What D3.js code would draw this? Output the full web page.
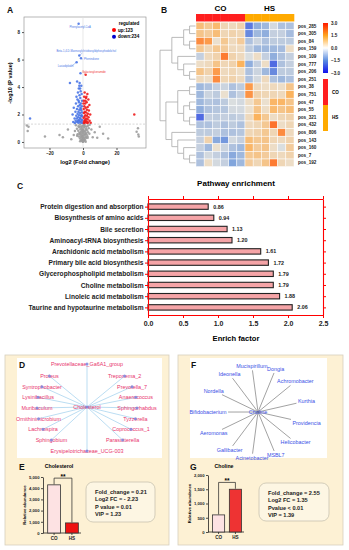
<!DOCTYPE html>
<html>
<head>
<meta charset="utf-8">
<script src="https://cdn.jsdelivr.net/npm/d3@7"></script>
<style>
  body { margin: 0; background: #fff; }
  svg { font-family: Arial, "Liberation Sans", sans-serif; }
</style>
</head>
<body>
<svg id="fig" width="349" height="550"></svg>
<script>
// ---------- data ----------

// A: volcano points [log2 FC, -log10 p]
let downPoints = [[-2.6,8.6],[-2.2,6.3],[-1.2,6.1],[-3.8,5.8],[-7.8,4.3],[-31.6,1.7],[-1.5,5.0],[-3.5,4.4],[-2.0,4.3],[-1.0,4.1],
  [-2.5,3.9],[-1.4,3.7],[-3.0,3.6],[-0.8,3.5],[-2.1,3.4],[-1.6,3.2],[-3.3,3.1],[-0.6,3.0],[-2.4,2.9],[-1.2,2.8],[-4.2,2.8],
  [-1.9,2.7],[-2.9,2.6],[-0.7,2.6],[-5.5,2.5],[-1.5,2.5],[-3.6,2.4],[-2.2,2.35],[-1.0,2.3],[-4.5,2.2],[-2.7,2.2],[-0.5,2.15],
  [-1.7,2.1],[-3.2,2.05],[-6.2,2.0],[-2.3,1.95],[-1.1,1.9],[-4.0,1.9],[-0.6,1.85],[-2.9,1.8],[-1.8,1.75],[-3.7,1.7],[-5.0,1.7],
  [-1.3,1.65],[-2.5,1.6],[-0.4,1.6],[-4.4,1.55],[-3.1,1.55],[-2.0,1.5],[-0.9,1.5],[-5.8,1.45],[-3.5,1.45],[-1.5,1.42],[-2.7,1.4],
  [-0.5,1.38],[-4.8,1.38],[-2.2,4.1],[-1.7,3.9],[-3.9,3.3],[-2.6,3.0],[-1.3,2.4],[-0.8,1.95]]
let upPoints = [[1.6,4.9],[30.6,2.0],[1.0,3.6],[2.6,3.5],[0.7,3.3],[1.8,3.2],[3.2,3.1],[0.5,3.0],[2.2,2.9],[1.3,2.8],[3.8,2.7],
  [0.8,2.6],[2.8,2.55],[1.6,2.5],[0.4,2.4],[2.3,2.35],[3.5,2.3],[1.1,2.2],[1.9,2.15],[0.6,2.1],[2.9,2.05],[4.3,2.0],[1.4,1.95],
  [2.4,1.9],[0.9,1.85],[3.3,1.8],[0.4,1.75],[1.8,1.7],[2.7,1.65],[1.2,1.6],[3.9,1.55],[0.7,1.5],[2.1,1.5],[1.5,1.45],[3.0,1.42],
  [0.5,1.38],[2.5,1.38],[4.6,1.4],[1.0,1.4],[0.3,2.8],[2.0,3.3],[1.5,3.0]]
let nsPoints = [[-0.3,0.05],[0.4,0.08],[-1.1,0.1],[1.2,0.12],[0.1,0.15],[-0.6,0.2],[0.8,0.22],[-1.8,0.25],[1.9,0.28],[-0.2,0.3],
  [0.5,0.33],[-1.3,0.36],[1.5,0.38],[-2.5,0.4],[2.6,0.42],[0.0,0.45],[-0.8,0.48],[1.0,0.5],[-1.6,0.52],[2.2,0.55],[-3.2,0.57],
  [0.3,0.6],[-0.5,0.62],[1.7,0.65],[-2.1,0.67],[3.0,0.7],[-0.1,0.72],[0.7,0.75],[-1.0,0.78],[1.3,0.8],[-2.8,0.82],[2.4,0.85],
  [-0.4,0.87],[0.2,0.9],[-1.5,0.92],[1.8,0.95],[-3.6,0.97],[3.4,1.0],[-0.7,1.02],[0.6,1.05],[-2.2,1.07],[2.0,1.1],[-1.2,1.12],
  [1.1,1.15],[-0.3,1.18],[0.4,1.2],[-4.2,1.22],[4.0,1.25],[-1.9,1.27],[0.9,1.28],[-0.9,0.15],[0.6,0.18],[-2.0,0.6],[2.8,0.3],
  [-3.5,0.45],[3.8,0.6],[-4.8,0.8],[5.0,0.9],[-5.5,0.5],[5.8,0.35],[-0.1,0.02],[0.2,0.03],[-0.5,0.38],[1.4,0.58],[-1.4,0.68],
  [0.0,0.85],[-2.6,1.15],[2.9,1.18],[-1.7,0.05],[1.6,0.02],[-32.5,1.1],[-33,0.8],[-22.7,0.4],[32.8,1.0],[33,0.55],[33.3,0.4],
  [32,0.75],[10,1.1],[7,0.7],[-14,0.5],[-12,0.35],[-9,0.9],[8.5,0.3],[-7,0.2],[12,0.6],[-33.5,1.2],[15,0.25]]
let volcanoNotes = [
  { name: 'Phenylacetyl-CoA', x: -2.6, y: 8.6, dx: 1.5, dy: 4.5, anchor: 'middle', up: false },
  { name: 'Beta-1,4-D-Mannosylchitobiosyldiphosphodolichol', x: -2.2, y: 6.3, dx: 7, dy: -3.5, anchor: 'middle', up: false },
  { name: 'Phenindione', x: -1.2, y: 6.1, dx: 3, dy: 2, anchor: 'start', up: false },
  { name: 'Lasiodiplodin', x: -3.8, y: 5.8, dx: -11, dy: 5, anchor: 'middle', up: false },
  { name: 'Galactosylceramide', x: 1.6, y: 4.9, dx: -3.5, dy: -1.5, anchor: 'start', up: true }
]
let upCount = 123
let downCount = 234

// B: heatmap
let heatRows = ['pos_285','pos_305','pos_84','pos_159','pos_109','pos_777','pos_206','pos_251','pos_38','pos_751',
  'pos_47','pos_55','pos_321','pos_432','pos_806','pos_143','pos_160','pos_7','pos_192']
let heatGroups = ['CO','CO','CO','CO','CO','CO','HS','HS','HS','HS','HS','HS']
let heatValues = [
  [1.2,0.9,1.3,0.5,0.4,0.6,-2.0,-1.2,-1.0,-0.3,-0.8,-0.8],
  [1.0,0.8,1.2,0.5,0.6,0.5,-1.8,-1.0,-1.2,-0.5,-0.5,-0.9],
  [2.0,1.8,0.2,0.9,0.4,0.8,-0.8,-0.4,-0.8,-0.6,-0.6,-0.6],
  [0.9,0.5,0.9,0.8,0.4,0.4,-0.6,-1.0,-1.0,-1.0,-0.9,0.3],
  [-0.5,0.4,0.6,2.2,0.6,0.4,-0.2,0.3,-0.5,-1.2,-0.8,-0.5],
  [0.3,0.4,1.0,0.5,0.6,1.5,-1.2,-0.5,0.3,-2.2,-0.8,-0.5],
  [1.0,0.6,1.8,0.4,0.5,0.3,-0.8,-0.4,-1.0,-1.8,-0.6,-0.6],
  [0.4,0.3,2.0,0.5,0.6,0.4,-0.8,-0.3,0.4,-0.8,-1.0,-0.8],
  [-1.0,-0.8,-0.5,-0.4,-0.8,-0.6,1.8,0.4,0.3,0.4,0.3,1.0],
  [-1.0,-0.4,-0.6,0.2,-0.8,-0.5,1.9,0.6,0.5,0.5,0.4,1.5],
  [-1.0,-0.7,-0.8,-0.6,-0.2,-0.3,0.3,0.9,0.2,1.4,1.4,1.0],
  [-1.2,-0.8,-0.7,-0.7,-0.3,-0.3,0.2,1.0,0.3,1.3,1.0,1.2],
  [-2.2,-0.5,-0.6,-0.5,-0.6,-0.5,0.4,1.5,0.9,0.3,0.5,0.6],
  [-0.8,-0.8,-0.6,-0.8,-0.6,-0.8,0.4,0.5,0.9,2.3,0.3,0.5],
  [-0.6,-0.6,-0.5,-0.8,-0.8,-0.7,0.5,0.6,0.9,0.5,2.0,0.4],
  [-0.5,0.6,-1.3,-1.6,-0.3,-0.5,1.2,0.9,1.0,0.5,0.4,0.6],
  [-0.5,-1.0,0.2,-0.4,-0.8,-1.0,1.4,0.8,1.0,0.3,-0.2,0.8],
  [-0.8,-0.3,-0.5,-0.8,-1.3,-1.0,0.9,1.0,0.8,0.5,0.4,0.6],
  [-0.8,0.3,-0.3,-0.5,-1.4,-1.0,0.8,0.5,1.0,2.2,0.5,0.3]
]
let rowTree = [
  [[['pos_285','pos_305'],['pos_84','pos_159']], ['pos_109',['pos_777',['pos_206','pos_251']]]],
  [[['pos_38','pos_751'],[['pos_47','pos_55'],['pos_321','pos_432']]], ['pos_806',['pos_143',['pos_160',['pos_7','pos_192']]]]]
]
let heatTicks = [3.0, 1.5, 0.0, -1.5, -3.0]

// C: pathway enrichment
let pathways = ['Protein digestion and absorption','Biosynthesis of amino acids','Bile secretion','Aminoacyl-tRNA biosynthesis',
  'Arachidonic acid metabolism','Primary bile acid biosynthesis','Glycerophospholipid metabolism','Choline metabolism',
  'Linoleic acid metabolism','Taurine and hypotaurine metabolism']
let enrichFactors = [0.86, 0.94, 1.13, 1.20, 1.61, 1.72, 1.79, 1.79, 1.88, 2.06]
let enrichTicks = [0, 0.5, 1.0, 1.5, 2.0, 2.5]

// D / F: correlation networks (clockwise from top)
let cholesterolTaxa = ['Prevotellaceae_Ga6A1_group','Treponema_2','Prevotella_7','Anaerococcus','Sphingorhabdus','Tyzzerella',
  'Coprococcus_1','Parasutterella','Erysipelotrichaceae_UCG-003','Sphingobium','Lachnospira','Ornithinimicrobium',
  'Muribaculum','Lysinibacillus','Syntrophobacter','Proteus']
let cholineTaxa = ['Mucispirillum','Dongia','Achromobacter','Kurthia','Providencia','Helicobacter','MSBL7','Acinetobacter',
  'Gallibacter','Aeromonas','Bifidobacterium','Nordella','Ideonella']

// E / G: bar charts
let groups = ['CO', 'HS']
let cholesterolAbundance = [4300, 900]
let cholineAbundance = [600, 1500]
let cholesterolTicks = [0, 1000, 2000, 3000, 4000, 5000]
let cholineTicks = [0, 500, 1000, 1500, 2000]
let cholesterolStats = ['Fold_change = 0.21', 'Log2 FC = - 2.23', 'P value = 0.01', 'VIP = 1.23']
let cholineStats = ['Fold_change = 2.55', 'Log2 FC = 1.35', 'Pvalue < 0.01', 'VIP = 1.39']

// ---------- drawing ----------
let svg = d3.select('#fig')
svg.append('rect').attr('width', 349).attr('height', 550).attr('fill', '#fff')

function panelLabel(t, x, y) {
  svg.append('text').text(t).attr('x', x).attr('y', y)
    .attr('font-size', 8.5).attr('font-weight', 'bold').attr('fill', '#111')
}

function styleAxis(g, size, color) {
  g.selectAll('text').attr('font-size', size).attr('font-weight', 'bold').attr('fill', '#222').attr('font-family', null)
  g.selectAll('line').attr('stroke', color)
  g.select('.domain').attr('stroke', color)
}

// ===== A: volcano =====
panelLabel('A', 7, 13)
let xVol = d3.scaleLinear().domain([-35.2, 37.6]).range([24, 146])
let yVol = d3.scaleLinear().domain([-0.44, 9.1]).range([148, 17])

svg.append('rect').attr('x', 24).attr('y', 17).attr('width', 122).attr('height', 131)
  .attr('fill', 'none').attr('stroke', '#999').attr('stroke-width', 0.7)
svg.append('line').attr('x1', xVol(0)).attr('x2', xVol(0)).attr('y1', 17).attr('y2', 148)
  .attr('stroke', '#ddd').attr('stroke-width', 0.7)
svg.append('line').attr('x1', 24).attr('x2', 146).attr('y1', yVol(1.3)).attr('y2', yVol(1.3))
  .attr('stroke', '#bbb').attr('stroke-width', 0.6).attr('stroke-dasharray', '2,1.5')

let yAxisA = svg.append('g').attr('transform', 'translate(24,0)')
  .call(d3.axisLeft(yVol).tickValues([0, 2, 4, 6, 8]).tickSize(2).tickSizeOuter(0).tickPadding(2))
styleAxis(yAxisA, 4.5, '#555')
yAxisA.select('.domain').remove()
let xAxisA = svg.append('g').attr('transform', 'translate(0,148)')
  .call(d3.axisBottom(xVol).tickValues([-20, 0, 20]).tickSize(2).tickSizeOuter(0).tickPadding(1.5))
styleAxis(xAxisA, 4.5, '#555')
xAxisA.select('.domain').remove()

let volLayers = [[nsPoints, '#9c9c9c'], [downPoints, '#4a76e6'], [upPoints, '#ee1c1c']]
volLayers.forEach(([pts, col]) => {
  svg.append('g').selectAll('circle').data(pts).enter().append('circle')
    .attr('cx', d => xVol(d[0])).attr('cy', d => yVol(d[1])).attr('r', 1.25)
    .attr('fill', col).attr('fill-opacity', 0.9)
})

volcanoNotes.forEach(n => {
  let px = xVol(n.x), py = yVol(n.y)
  let col = n.up ? '#f03030' : '#4a76e6'
  if (Math.abs(n.dx) > 2.5) {
    svg.append('line').attr('x1', px).attr('y1', py).attr('x2', px + n.dx * 0.45).attr('y2', py + n.dy * 0.7)
      .attr('stroke', col).attr('stroke-width', 0.4)
  }
  svg.append('text').text(n.name).attr('x', px + n.dx).attr('y', py + n.dy)
    .attr('text-anchor', n.anchor).attr('font-size', 2.7).attr('fill', col)
})

svg.append('text').text('regulated').attr('x', 129).attr('y', 24.5).attr('text-anchor', 'middle')
  .attr('font-size', 4.6).attr('font-weight', 'bold')
let legA = [['up:' + upCount, '#ff0000'], ['down:' + downCount, '#0000cc']]
legA.forEach((d, i) => {
  svg.append('circle').attr('cx', 114).attr('cy', 30 + i * 6.7).attr('r', 2).attr('fill', d[1])
  svg.append('text').text(d[0]).attr('x', 118).attr('y', 31.7 + i * 6.7)
    .attr('font-size', 4.6).attr('font-weight', 'bold')
})
svg.append('text').text('log2 (Fold change)').attr('x', 85).attr('y', 164).attr('text-anchor', 'middle')
  .attr('font-size', 5.6).attr('font-weight', 'bold')
svg.append('text').text('-log10 (P value)').attr('transform', 'translate(12,83) rotate(-90)')
  .attr('text-anchor', 'middle').attr('font-size', 5.6).attr('font-weight', 'bold')

// ===== B: heatmap =====
panelLabel('B', 161, 13)
let xHeat = d3.scaleBand().domain(d3.range(heatGroups.length)).range([196, 294])
let yHeat = d3.scaleBand().domain(heatRows).range([22.2, 166.6])
let heatColor = d3.scaleLinear().domain([-3, -1.5, 0, 1.5, 3])
  .range(['#1f2de8', '#7aa0dc', '#e9e7e0', '#fbb35e', '#ff3a00']).clamp(true)
let groupColor = { CO: '#ff1f1f', HS: '#ffaa00' }

heatGroups.forEach((g, j) => {
  svg.append('rect').attr('x', xHeat(j)).attr('y', 14).attr('width', xHeat.bandwidth() + 0.3).attr('height', 7.5)
    .attr('fill', groupColor[g])
})
groups.forEach(g => {
  let idx = heatGroups.map((d, j) => d === g ? j : -1).filter(j => j >= 0)
  let mid = (xHeat(idx[0]) + xHeat(idx[idx.length - 1]) + xHeat.bandwidth()) / 2
  svg.append('text').text(g).attr('x', mid).attr('y', 11).attr('text-anchor', 'middle')
    .attr('font-size', 8).attr('font-weight', 'bold')
})

heatRows.forEach((r, i) => {
  svg.append('g').selectAll('rect').data(heatValues[i]).enter().append('rect')
    .attr('x', (d, j) => xHeat(j)).attr('y', yHeat(r))
    .attr('width', xHeat.bandwidth()).attr('height', yHeat.bandwidth())
    .attr('fill', d => heatColor(d)).attr('stroke', '#fff').attr('stroke-width', 0.5)
  svg.append('text').text(r).attr('x', 298).attr('y', yHeat(r) + yHeat.bandwidth() / 2 + 1.6)
    .attr('font-size', 4.6).attr('font-weight', 'bold').attr('fill', '#222')
})

// row dendrogram
let root = d3.hierarchy(rowTree, d => Array.isArray(d) ? d : null)
let xDend = d3.scaleLinear().domain([0, root.height]).range([195.5, 160])
root.eachAfter(n => {
  if (!n.children) n.py = yHeat(n.data) + yHeat.bandwidth() / 2
  else n.py = (n.children[0].py + n.children[n.children.length - 1].py) / 2
  n.px = xDend(n.height)
})
svg.append('g').selectAll('path').data(root.links()).enter().append('path')
  .attr('d', l => `M${l.source.px},${l.source.py}V${l.target.py}H${l.target.px}`)
  .attr('fill', 'none').attr('stroke', '#aaa').attr('stroke-width', 0.8)

// colour legend
let grad = svg.append('defs').append('linearGradient').attr('id', 'heatGrad')
  .attr('x1', 0).attr('x2', 0).attr('y1', 0).attr('y2', 1)
let legY = d3.scaleLinear().domain([3, -3]).range([23, 73])
heatTicks.forEach(t => {
  grad.append('stop').attr('offset', (legY(t) - 23) / 50).attr('stop-color',
    t === 3 ? '#ff1a00' : t === 1.5 ? '#ffa520' : t === 0 ? '#ffffff' : t === -1.5 ? '#5b8de0' : '#1010ee')
})
svg.append('rect').attr('x', 323).attr('y', 23).attr('width', 5).attr('height', 50).attr('fill', 'url(#heatGrad)')
heatTicks.forEach(t => {
  svg.append('text').text(d3.format('.1f')(t)).attr('x', 331).attr('y', legY(t) + 1.6)
    .attr('font-size', 4.6).attr('font-weight', 'bold').attr('fill', '#222')
})
groups.forEach((g, i) => {
  svg.append('rect').attr('x', 323).attr('y', 79 + i * 26).attr('width', 5).attr('height', 26).attr('fill', groupColor[g])
  svg.append('text').text(g).attr('x', 332).attr('y', 93.6 + i * 25).attr('font-size', 4.6).attr('font-weight', 'bold')
})

// ===== C: pathway enrichment =====
panelLabel('C', 17, 189)
let xEnrich = d3.scaleLinear().domain([0, 2.5]).range([148, 323])
let yEnrich = d3.scalePoint().domain(pathways).range([199, 315]).padding(0.68)

svg.append('text').text('Pathway enrichment').attr('x', 236).attr('y', 185.5).attr('text-anchor', 'middle')
  .attr('font-size', 8).attr('font-weight', 'bold')

svg.append('g').selectAll('rect').data(pathways).enter().append('rect')
  .attr('x', xEnrich(0)).attr('y', d => yEnrich(d) - 2.7)
  .attr('width', (d, i) => xEnrich(enrichFactors[i]) - xEnrich(0)).attr('height', 5.4)
  .attr('fill', '#f5a4a7').attr('stroke', '#222').attr('stroke-width', 1.1)
svg.append('g').selectAll('text').data(pathways).enter().append('text')
  .text((d, i) => d3.format('.2f')(enrichFactors[i]))
  .attr('x', (d, i) => xEnrich(enrichFactors[i]) + 5).attr('y', d => yEnrich(d) + 2)
  .attr('font-size', 5.4).attr('font-weight', 'bold').attr('fill', '#222')

let axB = svg.append('g').attr('transform', 'translate(0,315)')
  .call(d3.axisBottom(xEnrich).tickValues(enrichTicks).tickFormat(d3.format('.1f')).tickSize(3).tickSizeOuter(0).tickPadding(3))
styleAxis(axB, 7, '#ff0000')
let axT = svg.append('g').attr('transform', 'translate(0,199)')
  .call(d3.axisTop(xEnrich).tickValues(enrichTicks).tickFormat('').tickSize(3).tickSizeOuter(0))
styleAxis(axT, 7, '#ff0000')
let axL = svg.append('g').attr('transform', 'translate(148,0)')
  .call(d3.axisLeft(yEnrich).tickSize(3).tickSizeOuter(0).tickPadding(1.5))
styleAxis(axL, 6.6, '#ff0000')
let axR = svg.append('g').attr('transform', 'translate(323,0)')
  .call(d3.axisRight(yEnrich).tickFormat('').tickSize(3).tickSizeOuter(0))
styleAxis(axR, 6.6, '#ff0000')
svg.selectAll('.domain').filter(function () { return this.getAttribute('stroke') === '#ff0000' })
  .attr('stroke-width', 1.1)
svg.append('text').text('Enrich factor').attr('x', 236).attr('y', 341).attr('text-anchor', 'middle')
  .attr('font-size', 7.6).attr('font-weight', 'bold')

// ===== D / F boxes =====
function box(x, w) {
  svg.append('rect').attr('x', x).attr('y', 355).attr('width', w).attr('height', 190)
    .attr('fill', '#fdf1d4').attr('stroke', '#d6cfbd').attr('stroke-width', 0.8)
}
box(5, 164)
box(178, 165)
svg.append('rect').attr('x', 17).attr('y', 358).attr('width', 145).attr('height', 100).attr('fill', '#fff')
svg.append('rect').attr('x', 190).attr('y', 358).attr('width', 137).attr('height', 100).attr('fill', '#fff')

// ===== D: cholesterol network =====
let dCx = 87, dCy = 407
let sideY = d3.scalePoint().domain(d3.range(7)).range([376, 440])
let cholNodes = cholesterolTaxa.map((name, i) => {
  let half = cholesterolTaxa.length / 2
  if (i === 0) return { name, x: dCx, y: 364 }
  if (i === half) return { name, x: dCx, y: 451 }
  let right = i < half
  let y = sideY(right ? i - 1 : cholesterolTaxa.length - 1 - i)
  let dx = 50 * Math.sqrt(1 - Math.pow((y - dCy) / 47, 2))
  return { name, x: right ? dCx + dx : dCx - dx, y }
})
svg.append('g').selectAll('line').data(cholNodes).enter().append('line')
  .attr('x1', dCx).attr('y1', dCy).attr('x2', d => d.x).attr('y2', d => d.y)
  .attr('stroke', '#a9d4ef').attr('stroke-width', 0.8)
cholNodes.concat([{ name: 'Cholesterol', x: dCx, y: dCy }]).forEach(d => {
  svg.append('text').text(d.name).attr('x', d.x).attr('y', d.y + 2).attr('text-anchor', 'middle')
    .attr('font-size', 5.4).attr('fill', '#e8336c')
  svg.append('circle').attr('cx', d.x).attr('cy', d.y).attr('r', 1.5).attr('fill', '#7b86de').attr('fill-opacity', 0.85)
})
panelLabel('D', 19, 368)

// ===== F: choline network =====
let fCx = 258, fCy = 412
let fAngle = d3.scaleLinear().domain([0, cholineTaxa.length]).range([-7, 353])
let measure = svg.append('text').attr('font-size', 5.4)
let fNodes = cholineTaxa.map((name, i) => {
  let a = fAngle(i) * Math.PI / 180
  let lx = 50 * Math.sin(a), ly = -46 * Math.cos(a)
  measure.text(name)
  let hw = measure.node().getComputedTextLength() / 2 + 1.5, hh = 4
  let t = Math.max(1 - hw / Math.max(Math.abs(lx), 0.01), 1 - hh / Math.max(Math.abs(ly), 0.01))
  t = Math.min(t, 0.95)
  return { name, lx: fCx + lx, ly: fCy + ly, ex: fCx + lx * t, ey: fCy + ly * t }
})
measure.remove()
svg.append('g').selectAll('line').data(fNodes).enter().append('line')
  .attr('x1', fCx).attr('y1', fCy).attr('x2', d => d.ex).attr('y2', d => d.ey)
  .attr('stroke', '#7a7a7a').attr('stroke-width', 0.7)
svg.append('g').selectAll('text').data(fNodes).enter().append('text')
  .text(d => d.name).attr('x', d => d.lx).attr('y', d => d.ly + 1.9).attr('text-anchor', 'middle')
  .attr('font-size', 5.4).attr('fill', '#3a4fe6')
svg.append('text').text('Choline').attr('x', fCx).attr('y', fCy + 2).attr('text-anchor', 'middle')
  .attr('font-size', 5.4).attr('fill', '#3a4fe6')
panelLabel('F', 191, 368)

// ===== E / G: bar panels =====
function barPanel(o) {
  let y = d3.scaleLinear().domain([0, o.ticks[o.ticks.length - 1]]).range([o.bottom, o.top])
  let x = d3.scaleBand().domain(groups).range([o.axisX + 2, o.axisX + 2 + 2 * o.step]).paddingInner(0.28).paddingOuter(0.15)
  let ay = svg.append('g').attr('transform', `translate(${o.axisX},0)`)
    .call(d3.axisLeft(y).tickValues(o.ticks).tickSize(2).tickSizeOuter(0).tickPadding(1.5))
  styleAxis(ay, 4.2, '#222')
  ay.selectAll('line, .domain').attr('stroke-width', 0.8)
  let ax = svg.append('g').attr('transform', `translate(0,${o.bottom})`)
    .call(d3.axisBottom(x).tickSize(2).tickSizeOuter(0).tickPadding(2))
  ax.select('.domain').attr('d', `M${o.axisX},0H${o.axisX + 2 + 2 * o.step}`)
  styleAxis(ax, 4.6, '#222')
  ax.selectAll('line, .domain').attr('stroke-width', 0.8)

  svg.append('g').selectAll('rect').data(o.values).enter().append('rect')
    .attr('x', (d, i) => x(groups[i])).attr('y', d => y(d))
    .attr('width', x.bandwidth()).attr('height', d => o.bottom - y(d))
    .attr('fill', (d, i) => o.fills[i]).attr('stroke', '#333').attr('stroke-width', 0.8)

  let top = d3.max(o.values) + o.ticks[o.ticks.length - 1] * 0.12
  let cx = groups.map(g => x(g) + x.bandwidth() / 2)
  svg.append('path')
    .attr('d', `M${cx[0]},${y(o.values[0]) - 0.5}V${y(top)}H${cx[1]}V${y(o.values[1]) - 0.5}`)
    .attr('fill', 'none').attr('stroke', '#222').attr('stroke-width', 0.7)
  svg.append('text').text('**').attr('x', (cx[0] + cx[1]) / 2).attr('y', y(top) + 1)
    .attr('text-anchor', 'middle').attr('font-size', 6.5).attr('font-weight', 'bold')
  svg.append('text').text(o.title).attr('x', (cx[0] + cx[1]) / 2 + o.titleShift).attr('y', 468)
    .attr('text-anchor', 'middle').attr('font-size', 5.2).attr('font-weight', 'bold')
  svg.append('text').text('Relative abundance').attr('transform', `translate(${o.axisX - 17},${(o.top + o.bottom) / 2}) rotate(-90)`)
    .attr('text-anchor', 'middle').attr('font-size', 4.2).attr('font-weight', 'bold')

  svg.append('rect').attr('x', o.boxX).attr('y', o.boxY).attr('width', o.boxW).attr('height', o.boxH)
    .attr('rx', 7).attr('fill', '#fdf6e3').attr('stroke', '#c8c3b0').attr('stroke-width', 0.8)
  o.stats.forEach((s, i) => {
    svg.append('text').text(s).attr('x', o.boxX + 9).attr('y', o.boxY + 11.5 + i * 7.5)
      .attr('font-size', 5.6).attr('font-weight', 'bold').attr('fill', '#222')
  })
}

barPanel({ axisX: 43, top: 477, bottom: 533, step: 18, ticks: cholesterolTicks, values: cholesterolAbundance,
  fills: ['#fde2e3', '#ee1111'], title: 'Cholesterol', titleShift: -4, stats: cholesterolStats,
  boxX: 86, boxY: 482, boxW: 69, boxH: 40 })
barPanel({ axisX: 208, top: 475, bottom: 532, step: 17, ticks: cholineTicks, values: cholineAbundance,
  fills: ['#fde2e3', '#ee3333'], title: 'Choline', titleShift: -3, stats: cholineStats,
  boxX: 259, boxY: 483, boxW: 70, boxH: 38 })
panelLabel('E', 19, 470)
panelLabel('G', 190, 470)
</script>
</body>
</html>
